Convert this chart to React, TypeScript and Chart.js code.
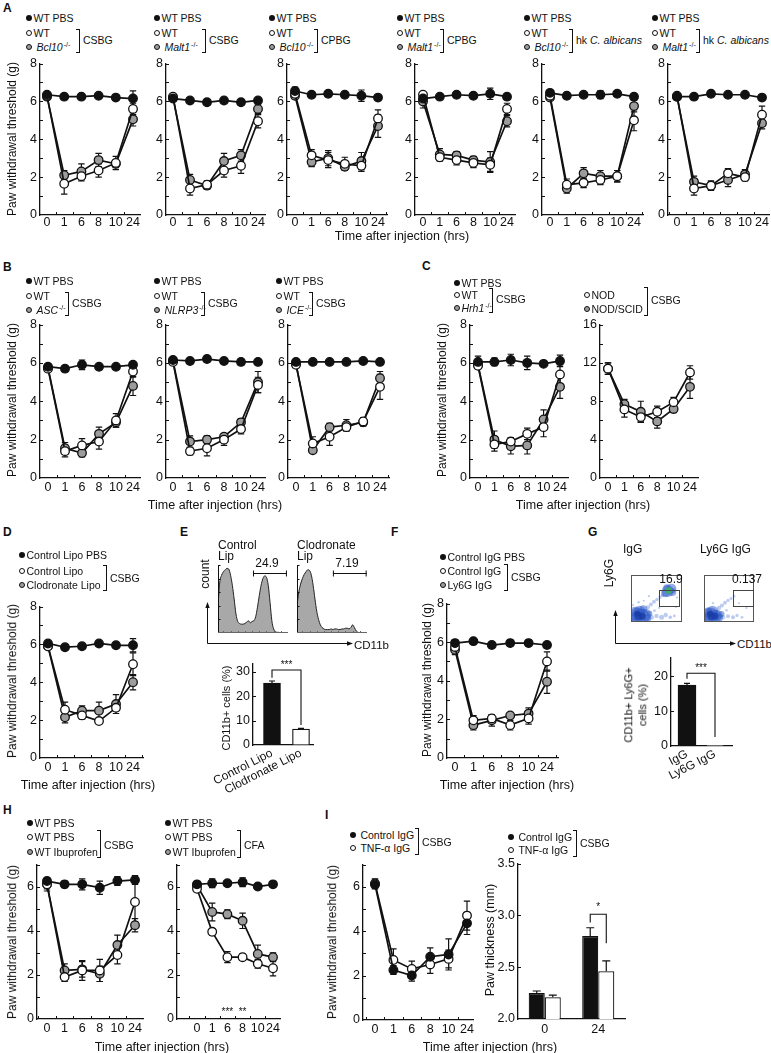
import React, { useEffect, useRef } from "react";
import { Chart, registerables } from "chart.js";
Chart.register(...registerables);

const FONT = "Arial, 'Liberation Sans', Helvetica, sans-serif";
const INK = "#111111";
const GRAY = "#9c9c9c";

const TIMES = ["0", "1", "6", "8", "10", "24"];

// ---------- Panel A ----------
const A1_PBS = [6.35, 6.25, 6.25, 6.3, 6.2, 6.15];
const A1_PBS_E = [0.08, 0.1, 0.12, 0.08, 0.1, 0.4];
const A1_WT = [6.3, 1.65, 2.05, 2.35, 2.75, 5.6];
const A1_WT_E = [0.1, 0.55, 0.25, 0.35, 0.35, 0.3];
const A1_KO = [6.25, 2.1, 2.3, 2.9, 2.7, 5.05];
const A1_KO_E = [0.1, 0.25, 0.4, 0.35, 0.2, 0.35];

const A2_PBS = [6.15, 6.05, 5.95, 6.05, 5.95, 6.05];
const A2_PBS_E = [0.1, 0.08, 0.08, 0.1, 0.12, 0.1];
const A2_WT = [6.25, 1.4, 1.6, 2.35, 2.6, 4.95];
const A2_WT_E = [0.15, 0.35, 0.2, 0.35, 0.4, 0.35];
const A2_KO = [6.2, 1.85, 1.55, 2.85, 3.15, 5.6];
const A2_KO_E = [0.15, 0.3, 0.2, 0.4, 0.3, 0.25];

const A3_PBS = [6.55, 6.35, 6.4, 6.35, 6.3, 6.2];
const A3_PBS_E = [0.2, 0.15, 0.15, 0.15, 0.3, 0.1];
const A3_WT = [6.4, 3.15, 2.9, 2.7, 2.6, 5.1];
const A3_WT_E = [0.15, 0.3, 0.4, 0.35, 0.3, 0.45];
const A3_KO = [6.3, 2.8, 3.0, 2.55, 2.85, 4.7];
const A3_KO_E = [0.15, 0.25, 0.4, 0.15, 0.45, 0.6];

const A4_PBS = [6.15, 6.25, 6.35, 6.3, 6.4, 6.25];
const A4_PBS_E = [0.1, 0.1, 0.15, 0.15, 0.3, 0.1];
const A4_WT = [6.35, 3.05, 2.9, 2.75, 2.65, 5.6];
const A4_WT_E = [0.1, 0.2, 0.25, 0.25, 0.35, 0.3];
const A4_KO = [6.0, 3.2, 3.15, 2.9, 2.8, 4.95];
const A4_KO_E = [0.35, 0.3, 0.2, 0.2, 0.55, 0.3];

const A5_PBS = [6.45, 6.3, 6.35, 6.35, 6.4, 6.25];
const A5_PBS_E = [0.1, 0.15, 0.1, 0.2, 0.12, 0.12];
const A5_WT = [6.3, 1.6, 1.7, 1.85, 2.05, 5.0];
const A5_WT_E = [0.1, 0.3, 0.25, 0.25, 0.3, 0.55];
const A5_KO = [6.2, 1.4, 2.2, 2.05, 2.05, 5.75];
const A5_KO_E = [0.1, 0.25, 0.3, 0.3, 0.3, 0.3];

const A6_PBS = [6.25, 6.25, 6.4, 6.35, 6.35, 6.2];
const A6_PBS_E = [0.1, 0.1, 0.1, 0.1, 0.1, 0.1];
const A6_WT = [6.3, 1.4, 1.55, 2.2, 2.0, 5.3];
const A6_WT_E = [0.1, 0.35, 0.2, 0.25, 0.2, 0.45];
const A6_KO = [6.25, 1.75, 1.55, 1.85, 2.15, 4.85];
const A6_KO_E = [0.1, 0.3, 0.25, 0.35, 0.25, 0.3];

// ---------- Panel B ----------
const B1_PBS = [5.8, 5.7, 5.9, 5.8, 5.8, 5.9];
const B1_PBS_E = [0.15, 0.15, 0.25, 0.08, 0.12, 0.1];
const B1_WT = [5.7, 1.4, 1.7, 1.9, 3.0, 5.55];
const B1_WT_E = [0.15, 0.3, 0.35, 0.4, 0.35, 0.3];
const B1_KO = [5.75, 1.55, 1.3, 2.3, 2.9, 4.8];
const B1_KO_E = [0.15, 0.3, 0.2, 0.35, 0.25, 0.5];

const B2_PBS = [6.15, 6.1, 6.2, 6.1, 6.05, 6.05];
const B2_PBS_E = [0.1, 0.1, 0.15, 0.1, 0.15, 0.1];
const B2_WT = [6.05, 1.4, 1.55, 2.0, 2.55, 4.85];
const B2_WT_E = [0.1, 0.2, 0.4, 0.3, 0.25, 0.4];
const B2_KO = [6.1, 1.9, 2.0, 2.15, 2.9, 5.0];
const B2_KO_E = [0.1, 0.3, 0.2, 0.15, 0.2, 0.55];

const B3_PBS = [6.05, 6.05, 6.05, 6.05, 6.1, 6.05];
const B3_PBS_E = [0.08, 0.08, 0.08, 0.08, 0.1, 0.08];
const B3_WT = [5.9, 1.8, 2.15, 2.65, 2.95, 4.75];
const B3_WT_E = [0.15, 0.35, 0.45, 0.2, 0.2, 0.65];
const B3_KO = [5.95, 1.45, 2.65, 2.75, 2.9, 5.2];
const B3_KO_E = [0.15, 0.1, 0.2, 0.3, 0.2, 0.35];

// ---------- Panel C ----------
const C1_PBS = [6.05, 6.05, 6.15, 6.0, 5.95, 6.1];
const C1_PBS_E = [0.3, 0.2, 0.3, 0.35, 0.1, 0.3];
const C1_WT = [5.85, 1.75, 1.9, 2.3, 2.65, 5.4];
const C1_WT_E = [0.15, 0.35, 0.2, 0.3, 0.5, 0.5];
const C1_KO = [5.9, 2.0, 1.65, 1.7, 3.05, 4.75];
const C1_KO_E = [0.15, 0.45, 0.4, 0.45, 0.5, 0.6];

const C2_NOD = [11.4, 7.15, 6.35, 6.9, 7.9, 11.0];
const C2_NOD_E = [0.6, 0.8, 0.5, 0.6, 0.5, 0.7];
const C2_SCID = [11.4, 7.7, 6.9, 5.9, 7.2, 9.5];
const C2_SCID_E = [0.6, 0.5, 1.1, 0.7, 0.4, 1.2];

// ---------- Panel D ----------
const D_PBS = [6.05, 5.85, 5.9, 6.05, 5.95, 5.95];
const D_PBS_E = [0.1, 0.1, 0.1, 0.1, 0.08, 0.35];
const D_CTRL = [5.9, 2.55, 2.25, 1.95, 2.65, 4.95];
const D_CTRL_E = [0.1, 0.4, 0.2, 0.1, 0.15, 0.6];
const D_CLOD = [5.9, 2.15, 2.5, 2.5, 2.85, 4.0];
const D_CLOD_E = [0.1, 0.3, 0.25, 0.45, 0.5, 0.4];

// ---------- Panel E ----------
const CTRL_LIP_HIST = [40, 75, 85, 90, 93, 95, 94, 85, 70, 50, 28, 17, 14, 13, 13, 14, 16, 18, 15, 17, 18, 24, 38, 55, 70, 80, 84, 82, 70, 45, 18, 6, 2, 1, 1, 0, 0, 0, 0, 0];
const CLOD_LIP_HIST = [40, 60, 72, 80, 86, 90, 93, 92, 85, 70, 50, 32, 20, 12, 8, 6, 5, 5, 5, 6, 5, 6, 6, 5, 5, 6, 6, 7, 7, 6, 8, 12, 8, 3, 1, 0, 0, 0, 0, 0];
const CTRL_LIP_GATE = [19.5, 38.4, 88];
const CLOD_LIP_GATE = [20, 38.8, 88];
const E_LABELS = ["Control Lipo", "Clodronate Lipo"];
const E_VALUES = [25.5, 6.5];
const E_ERRS = [0.8, 0.3];

// ---------- Panel F ----------
const F_PBS = [5.95, 6.05, 5.85, 5.95, 5.95, 5.85];
const F_PBS_E = [0.15, 0.1, 0.15, 0.15, 0.15, 0.15];
const F_CTRL = [5.75, 1.95, 2.05, 1.7, 2.05, 5.0];
const F_CTRL_E = [0.15, 0.25, 0.2, 0.25, 0.3, 0.5];
const F_LY6G = [5.6, 1.7, 1.95, 2.2, 2.3, 3.95];
const F_LY6G_E = [0.25, 0.25, 0.3, 0.15, 0.3, 0.6];

// ---------- Panel G ----------
const IGG_DENSE = [[0.13, 0.14, 8], [0.21, 0.11, 8], [0.17, 0.22, 6], [0.28, 0.15, 6], [0.08, 0.22, 5], [0.1, 0.07, 6], [0.32, 0.08, 4], [0.24, 0.27, 4], [0.05, 0.12, 4], [0.36, 0.18, 3], [0.72, 0.66, 6], [0.79, 0.71, 5], [0.67, 0.61, 4], [0.81, 0.64, 4], [0.7, 0.73, 3.5]];
const IGG_SPARSE = [[0.4, 0.1, 2.5], [0.5, 0.13, 2.2], [0.6, 0.1, 2.5], [0.68, 0.15, 2.2], [0.77, 0.1, 1.8], [0.85, 0.13, 1.4], [0.33, 0.31, 2.2], [0.39, 0.37, 2], [0.45, 0.43, 2], [0.51, 0.48, 1.8], [0.57, 0.53, 1.8], [0.62, 0.57, 1.6], [0.15, 0.42, 1.2], [0.35, 0.55, 1.1], [0.88, 0.32, 1.1], [0.9, 0.52, 1.1], [0.46, 0.24, 1.4], [0.04, 0.36, 1.1], [0.55, 0.3, 1.1], [0.25, 0.45, 1]];
const IGG_CORE = [[0.15, 0.13, 4], [0.22, 0.12, 3.5], [0.12, 0.18, 3]];
const IGG_GREEN = [[0.74, 0.67, 3.2]];
const LY6G_DENSE = [[0.13, 0.14, 8], [0.21, 0.11, 7], [0.17, 0.22, 6], [0.27, 0.15, 5], [0.08, 0.2, 5], [0.1, 0.07, 6], [0.3, 0.09, 4], [0.05, 0.12, 4], [0.35, 0.17, 3]];
const LY6G_SPARSE = [[0.38, 0.1, 2.2], [0.48, 0.12, 2], [0.58, 0.1, 2], [0.66, 0.14, 1.6], [0.76, 0.1, 1.4], [0.3, 0.3, 2.2], [0.36, 0.35, 2], [0.42, 0.41, 1.9], [0.48, 0.46, 1.7], [0.54, 0.5, 1.6], [0.6, 0.55, 1.4], [0.18, 0.4, 1.1], [0.85, 0.3, 1.1], [0.45, 0.25, 1.3], [0.7, 0.4, 1]];
const LY6G_CORE = [[0.15, 0.13, 4], [0.22, 0.12, 3.5], [0.12, 0.18, 3]];
const IGG_GATE = [0.54, 0.94, 0.33, 0.68];
const LY6G_GATE = [0.58, 0.97, 0.33, 0.68];
const G_LABELS = ["IgG", "Ly6G IgG"];
const G_VALUES = [17.5, 0.1];
const G_ERRS = [0.5, 0.05];

// ---------- Panel H ----------
const H1_PBS = [6.25, 6.1, 6.1, 5.95, 6.25, 6.3];
const H1_PBS_E = [0.1, 0.15, 0.25, 0.3, 0.2, 0.2];
const H1_WT = [6.1, 1.9, 2.2, 2.2, 2.9, 5.3];
const H1_WT_E = [0.2, 0.2, 0.45, 0.5, 0.4, 0.9];
const H1_IBU = [6.1, 2.2, 2.25, 2.05, 3.35, 4.25];
const H1_IBU_E = [0.3, 0.3, 0.35, 0.35, 0.45, 0.3];

const H2_PBS = [6.1, 6.15, 6.15, 6.2, 6.0, 6.1];
const H2_PBS_E = [0.1, 0.2, 0.1, 0.2, 0.08, 0.1];
const H2_WT = [5.9, 3.95, 2.8, 2.8, 2.5, 2.3];
const H2_WT_E = [0.1, 0.15, 0.25, 0.15, 0.2, 0.35];
const H2_IBU = [6.05, 4.85, 4.75, 4.45, 2.95, 2.8];
const H2_IBU_E = [0.1, 0.4, 0.2, 0.35, 0.4, 0.2];
const H2_SIG = ["", "", "***", "**", "", ""];

// ---------- Panel I ----------
const I1_CTRL = [6.1, 2.25, 2.0, 2.85, 2.95, 4.35];
const I1_CTRL_E = [0.2, 0.2, 0.25, 0.4, 0.7, 0.5];
const I1_TNF = [6.15, 2.7, 2.3, 2.5, 2.75, 4.7];
const I1_TNF_E = [0.2, 0.5, 0.35, 0.4, 0.4, 0.65];

const I2_LABELS = ["0", "24"];
const I2_CTRL = [2.25, 2.8];
const I2_CTRL_E = [0.02, 0.08];
const I2_TNF = [2.21, 2.46];
const I2_TNF_E = [0.02, 0.1];

// ---------- helpers ----------
const S = (k: string, v: number[], e: number[]) => ({ k, v, e });

function decor(spec: any) {
  return {
    id: "decor",
    beforeDatasetsDraw(chart: any) {
      const ctx = chart.ctx;
      const ys = chart.scales.y;
      ctx.save();
      ctx.strokeStyle = INK;
      ctx.lineWidth = 1.2;
      chart.data.datasets.forEach((ds: any, di: number) => {
        if (!ds.errs) return;
        const meta = chart.getDatasetMeta(di);
        meta.data.forEach((el: any, j: number) => {
          const raw = ds.data[j];
          const v = typeof raw === "number" ? raw : raw.y;
          const e = ds.errs[j];
          if (!e) return;
          const top = ys.getPixelForValue(v + e);
          const bot = spec.upOnly ? ys.getPixelForValue(v) : ys.getPixelForValue(v - e);
          const cw = spec.cap ?? 3.2;
          ctx.beginPath();
          ctx.moveTo(el.x, top);
          ctx.lineTo(el.x, bot);
          ctx.moveTo(el.x - cw, top);
          ctx.lineTo(el.x + cw, top);
          if (!spec.upOnly) {
            ctx.moveTo(el.x - cw, bot);
            ctx.lineTo(el.x + cw, bot);
          }
          ctx.stroke();
        });
      });
      ctx.restore();
    },
    afterDraw(chart: any) {
      const { ctx, chartArea: ca } = chart;
      const xs = chart.scales.x;
      const ys = chart.scales.y;
      ctx.save();
      ctx.strokeStyle = INK;
      ctx.fillStyle = INK;
      ctx.lineWidth = 1;
      if (spec.minorY) {
        ctx.beginPath();
        for (let v = ys.min + spec.minorY; v <= ys.max + 1e-6; v += spec.minorY) {
          const y = Math.round(ys.getPixelForValue(v)) + 0.5;
          ctx.moveTo(ca.left, y);
          ctx.lineTo(ca.left + 3, y);
        }
        ctx.stroke();
      }
      if (spec.minorX) {
        ctx.beginPath();
        for (let i = -0.5; i <= 5.5; i += 1) {
          if (i <= xs.min || i >= xs.max) continue;
          const x = Math.round(xs.getPixelForValue(i)) + 0.5;
          ctx.moveTo(x, ca.bottom);
          ctx.lineTo(x, ca.bottom - 3);
        }
        ctx.stroke();
      }
      if (spec.sig) {
        ctx.font = `10px ${FONT}`;
        ctx.textAlign = "center";
        ctx.textBaseline = "middle";
        spec.sig.forEach((t: string, i: number) => {
          if (t) ctx.fillText(t, xs.getPixelForValue(i), ys.getPixelForValue(spec.sigY));
        });
      }
      if (spec.bracket) {
        const b = spec.bracket;
        const ea = chart.getDatasetMeta(b.a[0]).data[b.a[1]];
        const eb = chart.getDatasetMeta(b.b[0]).data[b.b[1]];
        const yt = ys.getPixelForValue(b.top);
        ctx.lineWidth = 1.1;
        ctx.beginPath();
        ctx.moveTo(ea.x, ys.getPixelForValue(b.aBottom));
        ctx.lineTo(ea.x, yt);
        ctx.lineTo(eb.x, yt);
        ctx.lineTo(eb.x, ys.getPixelForValue(b.bBottom));
        ctx.stroke();
        ctx.font = `10px ${FONT}`;
        ctx.textAlign = "center";
        ctx.textBaseline = "middle";
        ctx.fillText(b.text, (ea.x + eb.x) / 2, ys.getPixelForValue(b.textY));
      }
      if (spec.frame) {
        ctx.strokeStyle = "#555";
        ctx.lineWidth = 1;
        ctx.strokeRect(ca.left + 0.5, ca.top + 0.5, ca.width - 1, ca.height - 1);
      }
      if (spec.box) {
        const [x0, x1, y0, y1] = spec.box;
        const px0 = xs.getPixelForValue(x0), px1 = xs.getPixelForValue(x1);
        const py0 = ys.getPixelForValue(y0), py1 = ys.getPixelForValue(y1);
        ctx.strokeStyle = "#444";
        ctx.lineWidth = 1;
        ctx.strokeRect(Math.round(px0) + 0.5, Math.round(py1) + 0.5, Math.round(px1 - px0), Math.round(py0 - py1));
      }
      if (spec.hist) {
        ctx.strokeStyle = INK;
        ctx.lineWidth = 1;
        ctx.beginPath();
        ctx.moveTo(ca.left + 0.5, ca.top);
        ctx.lineTo(ca.left + 0.5, ca.bottom);
        for (let v = 20; v <= 100; v += 20) {
          const y = Math.round(ys.getPixelForValue(v)) + 0.5;
          ctx.moveTo(ca.left, y);
          ctx.lineTo(ca.left + 2.5, y);
        }
        ctx.stroke();
        ctx.strokeStyle = "#666";
        ctx.beginPath();
        ctx.moveTo(ca.left, ca.bottom - 0.5);
        ctx.lineTo(ca.right, ca.bottom - 0.5);
        for (let i = 3; i < 40; i += 4) {
          const x = Math.round(xs.getPixelForValue(i)) + 0.5;
          ctx.moveTo(x, ca.bottom);
          ctx.lineTo(x, ca.bottom - 2);
        }
        ctx.stroke();
      }
      if (spec.gate) {
        const [g0, g1, lv] = spec.gate;
        const x0 = xs.getPixelForValue(g0), x1 = xs.getPixelForValue(g1);
        const y = Math.round(ys.getPixelForValue(lv)) + 0.5;
        ctx.strokeStyle = INK;
        ctx.lineWidth = 1;
        ctx.beginPath();
        ctx.moveTo(x0, y);
        ctx.lineTo(x1, y);
        ctx.moveTo(x0 + 0.5, y - 3);
        ctx.lineTo(x0 + 0.5, y + 3);
        ctx.moveTo(x1 - 0.5, y - 3);
        ctx.lineTo(x1 - 0.5, y + 3);
        ctx.stroke();
      }
      ctx.restore();
    },
  };
}

function ChartCanvas({ left, top, width, height, make }: any) {
  const ref = useRef<HTMLCanvasElement>(null);
  useEffect(() => {
    const ch = new Chart(ref.current as HTMLCanvasElement, make());
    return () => ch.destroy();
  }, []);
  return (
    <canvas
      ref={ref}
      width={width}
      height={height}
      style={{ position: "absolute", left, top, width, height }}
    />
  );
}

const tickFont = { family: FONT, size: 12.5 };
const axisGrid = { display: true, drawOnChartArea: false, drawTicks: false };
const axisBorder = { display: true, color: INK, width: 1.3 };
const fillOf = (k: string) => (k === "black" ? INK : k === "open" ? "#ffffff" : GRAY);

function LineChart({ g, series, yMax, yStep, minorY, sig, sigY, xPad = 2 }: any) {
  const YW = 26, PT = 9, PR = 9, XH = 22;
  const left = g.ax - YW;
  const top = g.yt - PT;
  const width = YW + (g.xe - g.ax) + PR;
  const height = PT + (g.yb - g.yt) + XH;
  const make = () => {
    const sp = (g.p5 - g.p0) / 5;
    const xMin = -(g.p0 - g.ax) / sp;
    const xMax = 5 + (g.xe - g.p5) / sp;
    return {
      type: "line",
      data: {
        datasets: series.map((s: any) => ({
          data: s.v.map((v: number, i: number) => ({ x: i, y: v })),
          errs: s.e,
          borderColor: INK,
          borderWidth: 1.7,
          tension: 0,
          fill: false,
          pointRadius: 4.3,
          pointBorderWidth: 1.3,
          pointBorderColor: INK,
          pointBackgroundColor: fillOf(s.k),
          clip: false,
        })),
      },
      options: {
        responsive: false,
        animation: false,
        devicePixelRatio: 1,
        events: [],
        layout: { padding: { top: PT, right: PR, left: 0, bottom: 0 } },
        plugins: { legend: { display: false }, tooltip: { enabled: false } },
        scales: {
          x: {
            type: "linear",
            min: xMin,
            max: xMax,
            afterBuildTicks: (s: any) => {
              s.ticks = TIMES.map((_, i) => ({ value: i }));
            },
            afterFit: (s: any) => {
              s.height = XH;
            },
            grid: axisGrid,
            border: axisBorder,
            ticks: {
              padding: xPad,
              autoSkip: false,
              maxRotation: 0,
              minRotation: 0,
              color: INK,
              font: tickFont,
              callback: (v: number) => TIMES[Math.round(v)] ?? "",
            },
          },
          y: {
            type: "linear",
            min: 0,
            max: yMax,
            afterFit: (s: any) => {
              s.width = YW;
            },
            grid: axisGrid,
            border: axisBorder,
            ticks: { stepSize: yStep, includeBounds: false, padding: 3, color: INK, font: tickFont },
          },
        },
      },
      plugins: [decor({ minorY, minorX: true, sig, sigY })],
    };
  };
  return <ChartCanvas left={left} top={top} width={width} height={height} make={make} />;
}

function BarLinear({ g, labels, values, errs, yMax, yStep, bracket, barW }: any) {
  const YW = 60, PT = 10, PR = 10, XH = 60;
  const left = g.ax - YW;
  const top = g.yt - PT;
  const width = YW + (g.xe - g.ax) + PR;
  const height = PT + (g.yb - g.yt) + XH;
  const make = () => {
    const sp = g.p1 - g.p0;
    const xMin = -(g.p0 - g.ax) / sp;
    const xMax = 1 + (g.xe - g.p1) / sp;
    return {
      type: "bar",
      data: {
        datasets: [
          {
            data: values.map((v: number, i: number) => ({ x: i, y: v })),
            errs,
            backgroundColor: [INK, "#ffffff"],
            borderColor: INK,
            borderWidth: 1.2,
            barThickness: barW,
          },
        ],
      },
      options: {
        responsive: false,
        animation: false,
        devicePixelRatio: 1,
        events: [],
        layout: { padding: { top: PT, right: PR, left: 0, bottom: 0 } },
        plugins: { legend: { display: false }, tooltip: { enabled: false } },
        scales: {
          x: {
            type: "linear",
            min: xMin,
            max: xMax,
            offset: false,
            afterBuildTicks: (s: any) => {
              s.ticks = labels.map((_: any, i: number) => ({ value: i }));
            },
            afterFit: (s: any) => {
              s.height = XH;
            },
            grid: axisGrid,
            border: axisBorder,
            ticks: {
              padding: 1,
              autoSkip: false,
              maxRotation: 27,
              minRotation: 27,
              color: INK,
              font: { family: FONT, size: 12 },
              callback: (v: number) => labels[Math.round(v)] ?? "",
            },
          },
          y: {
            min: 0,
            max: yMax,
            afterFit: (s: any) => {
              s.width = YW;
            },
            grid: axisGrid,
            border: axisBorder,
            ticks: { stepSize: yStep, includeBounds: false, padding: 3, color: INK, font: tickFont },
          },
        },
      },
      plugins: [decor({ upOnly: true, cap: 3, minorY: yStep, bracket })],
    };
  };
  return <ChartCanvas left={left} top={top} width={width} height={height} make={make} />;
}

function BarGrouped({ g }: any) {
  const YW = 32, PT = 9, PR = 8, XH = 22;
  const left = g.ax - YW;
  const top = g.yt - PT;
  const width = YW + (g.xe - g.ax) + PR;
  const height = PT + (g.yb - g.yt) + XH;
  const make = () => ({
    type: "bar",
    data: {
      labels: I2_LABELS,
      datasets: [
        { data: I2_CTRL, errs: I2_CTRL_E, backgroundColor: INK, borderColor: INK, borderWidth: 1.2, categoryPercentage: 0.6, barPercentage: 1 },
        { data: I2_TNF, errs: I2_TNF_E, backgroundColor: "#ffffff", borderColor: INK, borderWidth: 1.2, categoryPercentage: 0.6, barPercentage: 1 },
      ],
    },
    options: {
      responsive: false,
      animation: false,
      devicePixelRatio: 1,
      events: [],
      layout: { padding: { top: PT, right: PR, left: 0, bottom: 0 } },
      plugins: { legend: { display: false }, tooltip: { enabled: false } },
      scales: {
        x: {
          afterFit: (s: any) => {
            s.height = XH;
          },
          grid: axisGrid,
          border: axisBorder,
          ticks: { padding: 3, color: INK, font: tickFont, maxRotation: 0 },
        },
        y: {
          min: 2,
          max: 3.5,
          afterFit: (s: any) => {
            s.width = YW;
          },
          grid: axisGrid,
          border: axisBorder,
          ticks: { stepSize: 0.5, padding: 3, color: INK, font: tickFont },
        },
      },
    },
    plugins: [
      decor({
        upOnly: true,
        cap: 4,
        minorY: 0.5,
        bracket: { a: [0, 1], b: [1, 1], top: 3.01, aBottom: 2.93, bBottom: 2.73, text: "*", textY: 3.08 },
      }),
    ],
  });
  return <ChartCanvas left={left} top={top} width={width} height={height} make={make} />;
}

function Histogram({ left, top, width, height, values, gate }: any) {
  const make = () => ({
    type: "line",
    data: {
      datasets: [
        {
          data: values.map((v: number, i: number) => ({ x: i, y: v })),
          fill: "origin",
          backgroundColor: "#a8a8a8",
          borderColor: "#222",
          borderWidth: 1,
          pointRadius: 0,
          tension: 0.35,
          cubicInterpolationMode: "monotone",
        },
      ],
    },
    options: {
      responsive: false,
      animation: false,
      devicePixelRatio: 1,
      events: [],
      layout: { padding: 0 },
      plugins: { legend: { display: false }, tooltip: { enabled: false } },
      scales: {
        x: { type: "linear", min: 0, max: values.length - 1, display: false },
        y: { min: 0, max: 100, display: false },
      },
    },
    plugins: [decor({ hist: true, gate })],
  });
  return <ChartCanvas left={left} top={top} width={width} height={height} make={make} />;
}

function DotPlot({ left, top, width, height, sparse, dense, core, green, gate }: any) {
  const toPts = (a: number[][]) => a.map(([x, y, r]) => ({ x, y, r }));
  const make = () => ({
    type: "bubble",
    data: {
      datasets: [
        { data: toPts(green), backgroundColor: "rgba(60,175,105,0.95)", borderWidth: 0 },
        { data: toPts(core), backgroundColor: "rgba(25,60,165,0.75)", borderWidth: 0 },
        { data: toPts(dense), backgroundColor: "rgba(45,90,200,0.5)", borderWidth: 0 },
        { data: toPts(sparse), backgroundColor: "rgba(80,120,215,0.38)", borderWidth: 0 },
      ],
    },
    options: {
      responsive: false,
      animation: false,
      devicePixelRatio: 1,
      events: [],
      layout: { padding: 0 },
      plugins: { legend: { display: false }, tooltip: { enabled: false } },
      scales: {
        x: { type: "linear", min: 0, max: 1, display: false },
        y: { type: "linear", min: 0, max: 1, display: false },
      },
    },
    plugins: [decor({ frame: true, box: gate })],
  });
  return <ChartCanvas left={left} top={top} width={width} height={height} make={make} />;
}

function T({ x, y, s = 10.5, a = "l", r = 0, b = false, lh = 1.15, children }: any) {
  const tx = a === "c" ? "-50%" : a === "r" ? "-100%" : "0";
  return (
    <div
      style={{
        position: "absolute",
        left: x,
        top: y,
        transform: `translate(${tx}, -50%)` + (r ? ` rotate(${r}deg)` : ""),
        fontFamily: FONT,
        fontSize: s,
        fontWeight: b ? "bold" : "normal",
        color: INK,
        whiteSpace: "nowrap",
        lineHeight: lh,
        textAlign: "center",
      }}
    >
      {children}
    </div>
  );
}

function Leg({ x, y, k, children }: any) {
  const d = 6.5;
  return (
    <>
      <div
        style={{
          position: "absolute",
          left: x - d / 2,
          top: y - d / 2,
          width: d,
          height: d,
          borderRadius: "50%",
          boxSizing: "border-box",
          background: fillOf(k),
          border: k === "black" ? "none" : `1.3px solid ${INK}`,
        }}
      />
      <T x={x + 4.5} y={y} s={10.5}>
        {children}
      </T>
    </>
  );
}

function Br({ x, y1, y2, label, ly }: any) {
  return (
    <>
      <div
        style={{
          position: "absolute",
          left: x - 4,
          top: y1,
          width: 4,
          height: y2 - y1,
          boxSizing: "border-box",
          borderTop: `1.2px solid ${INK}`,
          borderRight: `1.3px solid ${INK}`,
          borderBottom: `1.2px solid ${INK}`,
        }}
      />
      <T x={x + 3} y={ly ?? (y1 + y2) / 2 - 1} s={10.5}>
        {label}
      </T>
    </>
  );
}

const Ko = ({ n }: any) => (
  <>
    <i>{n}</i>
    <span style={{ fontSize: 7, position: "relative", top: -4, marginLeft: 1 }}>-/-</span>
  </>
);

const Hk = () => (
  <>
    hk <i>C. albicans</i>
  </>
);

function LegA({ x, gene, bx, label, y0 }: any) {
  return (
    <>
      <Leg x={x} y={y0} k="black">WT PBS</Leg>
      <Leg x={x} y={y0 + 15} k="open">WT</Leg>
      <Leg x={x} y={y0 + 29} k="gray">
        {"\u00a0"}
        <Ko n={gene} />
      </Leg>
      <Br x={bx} y1={y0 + 11} y2={y0 + 35} label={label} />
    </>
  );
}

const GEO: any = {
  A1: { ax: 40, p0: 47, p5: 133, xe: 140, yt: 62, yb: 215 },
  A2: { ax: 166, p0: 173, p5: 258, xe: 265, yt: 62, yb: 215 },
  A3: { ax: 287, p0: 295, p5: 378, xe: 387, yt: 62, yb: 215 },
  A4: { ax: 415, p0: 423, p5: 507, xe: 515, yt: 62, yb: 215 },
  A5: { ax: 542, p0: 550, p5: 634, xe: 643, yt: 62, yb: 215 },
  A6: { ax: 668, p0: 677, p5: 762, xe: 769, yt: 62, yb: 215 },
  B1: { ax: 40, p0: 48, p5: 133, xe: 140, yt: 323, yb: 478 },
  B2: { ax: 166, p0: 173, p5: 258, xe: 265, yt: 323, yb: 478 },
  B3: { ax: 288, p0: 296, p5: 380, xe: 389, yt: 323, yb: 478 },
  C1: { ax: 470, p0: 478, p5: 560, xe: 568, yt: 323, yb: 478 },
  C2: { ax: 600, p0: 608, p5: 690, xe: 698, yt: 323, yb: 478 },
  D: { ax: 40, p0: 48, p5: 133, xe: 143, yt: 605, yb: 758 },
  F: { ax: 447, p0: 455, p5: 547, xe: 558, yt: 602, yb: 758 },
  H1: { ax: 37, p0: 47, p5: 135, xe: 143, yt: 863, yb: 1019 },
  H2: { ax: 177, p0: 197, p5: 273, xe: 280, yt: 863, yb: 1019 },
  I1: { ax: 363, p0: 375, p5: 467, xe: 473, yt: 863, yb: 1020 },
  E: { ax: 253, p0: 272, p1: 301, xe: 313, yt: 663, yb: 745 },
  G: { ax: 671, p0: 687, p1: 715, xe: 732, yt: 657, yb: 746 },
  I2: { ax: 518, xe: 625, yt: 862, yb: 1019 },
};

const YT = "Paw withdrawal threshold (g)";
const XT = "Time after injection (hrs)";

export default function App() {
  return (
    <div
      style={{
        position: "absolute",
        left: 0,
        top: 0,
        width: 771,
        height: 1053,
        overflow: "hidden",
        background: "#fff",
        fontFamily: FONT,
      }}
    >
      {/* Panel letters */}
      <T x={3} y={9} s={12} b>A</T>
      <T x={3} y={268} s={12} b>B</T>
      <T x={422} y={267} s={12} b>C</T>
      <T x={3} y={533} s={12} b>D</T>
      <T x={180} y={533} s={12} b>E</T>
      <T x={391} y={533} s={12} b>F</T>
      <T x={588} y={533} s={12} b>G</T>
      <T x={3} y={811} s={12} b>H</T>
      <T x={325} y={816} s={12} b>I</T>

      {/* ---------- A ---------- */}
      <LegA x={29} y0={18} gene="Bcl10" bx={80} label="CSBG" />
      <LegA x={157} y0={18} gene="Malt1" bx={206} label="CSBG" />
      <LegA x={272} y0={18} gene="Bcl10" bx={318} label="CPBG" />
      <LegA x={400} y0={18} gene="Malt1" bx={444} label="CPBG" />
      <LegA x={527} y0={18} gene="Bcl10" bx={573} label={<Hk />} />
      <LegA x={655} y0={18} gene="Malt1" bx={700} label={<Hk />} />
      <LineChart g={GEO.A1} xPad={0} yMax={8} yStep={2} minorY={1} series={[S("black", A1_PBS, A1_PBS_E), S("open", A1_WT, A1_WT_E), S("gray", A1_KO, A1_KO_E)]} />
      <LineChart g={GEO.A2} xPad={0} yMax={8} yStep={2} minorY={1} series={[S("black", A2_PBS, A2_PBS_E), S("open", A2_WT, A2_WT_E), S("gray", A2_KO, A2_KO_E)]} />
      <LineChart g={GEO.A3} xPad={0} yMax={8} yStep={2} minorY={1} series={[S("black", A3_PBS, A3_PBS_E), S("open", A3_WT, A3_WT_E), S("gray", A3_KO, A3_KO_E)]} />
      <LineChart g={GEO.A4} xPad={0} yMax={8} yStep={2} minorY={1} series={[S("black", A4_PBS, A4_PBS_E), S("open", A4_WT, A4_WT_E), S("gray", A4_KO, A4_KO_E)]} />
      <LineChart g={GEO.A5} xPad={0} yMax={8} yStep={2} minorY={1} series={[S("black", A5_PBS, A5_PBS_E), S("open", A5_WT, A5_WT_E), S("gray", A5_KO, A5_KO_E)]} />
      <LineChart g={GEO.A6} xPad={0} yMax={8} yStep={2} minorY={1} series={[S("black", A6_PBS, A6_PBS_E), S("open", A6_WT, A6_WT_E), S("gray", A6_KO, A6_KO_E)]} />
      <T x={13} y={139} s={12} a="c" r={-90}>{YT}</T>
      <T x={402} y={236} s={12.5} a="c">{XT}</T>

      {/* ---------- B ---------- */}
      <LegA x={29} y0={281} gene="ASC" bx={69} label="CSBG" />
      <LegA x={157} y0={281} gene="NLRP3" bx={205} label="CSBG" />
      <LegA x={279} y0={281} gene="ICE" bx={313} label="CSBG" />
      <LineChart g={GEO.B1} yMax={8} yStep={2} minorY={1} series={[S("black", B1_PBS, B1_PBS_E), S("open", B1_WT, B1_WT_E), S("gray", B1_KO, B1_KO_E)]} />
      <LineChart g={GEO.B2} yMax={8} yStep={2} minorY={1} series={[S("black", B2_PBS, B2_PBS_E), S("open", B2_WT, B2_WT_E), S("gray", B2_KO, B2_KO_E)]} />
      <LineChart g={GEO.B3} yMax={8} yStep={2} minorY={1} series={[S("black", B3_PBS, B3_PBS_E), S("open", B3_WT, B3_WT_E), S("gray", B3_KO, B3_KO_E)]} />
      <T x={13} y={400} s={12} a="c" r={-90}>{YT}</T>
      <T x={215} y={505} s={12.5} a="c">{XT}</T>

      {/* ---------- C ---------- */}
      <Leg x={457} y={283} k="black">WT PBS</Leg>
      <Leg x={457} y={295} k="open">WT</Leg>
      <Leg x={457} y={308} k="gray">
        <Ko n="Hrh1" />
      </Leg>
      <Br x={493} y1={288} y2={313} label="CSBG" ly={299} />
      <Leg x={587} y={295} k="open">NOD</Leg>
      <Leg x={587} y={309} k="gray">NOD/SCID</Leg>
      <Br x={648} y1={287} y2={316} label="CSBG" ly={300} />
      <LineChart g={GEO.C1} yMax={8} yStep={2} minorY={1} series={[S("black", C1_PBS, C1_PBS_E), S("open", C1_WT, C1_WT_E), S("gray", C1_KO, C1_KO_E)]} />
      <LineChart g={GEO.C2} yMax={16} yStep={4} minorY={2} series={[S("open", C2_NOD, C2_NOD_E), S("gray", C2_SCID, C2_SCID_E)]} />
      <T x={443} y={400} s={12} a="c" r={-90}>{YT}</T>
      <T x={583} y={505} s={12.5} a="c">{XT}</T>

      {/* ---------- D ---------- */}
      <Leg x={22} y={555} k="black">Control Lipo PBS</Leg>
      <Leg x={22} y={571} k="open">Control Lipo</Leg>
      <Leg x={22} y={585} k="gray">Clodronate Lipo</Leg>
      <Br x={107} y1={565} y2={591} label="CSBG" ly={578} />
      <LineChart g={GEO.D} yMax={8} yStep={2} minorY={1} series={[S("black", D_PBS, D_PBS_E), S("open", D_CTRL, D_CTRL_E), S("gray", D_CLOD, D_CLOD_E)]} />
      <T x={13} y={681} s={12} a="c" r={-90}>{YT}</T>
      <T x={88} y={785} s={12.5} a="c">{XT}</T>

      {/* ---------- E ---------- */}
      <T x={218} y={546} s={12}>Control</T>
      <T x={218} y={557} s={12}>Lip</T>
      <T x={297} y={546} s={12}>Clodronate</T>
      <T x={297} y={557} s={12}>Lip</T>
      <T x={267} y={564} s={12} a="c">24.9</T>
      <T x={347} y={564} s={12} a="c">7.19</T>
      <Histogram left={218} top={565} width={70} height={68} values={CTRL_LIP_HIST} gate={CTRL_LIP_GATE} />
      <Histogram left={297} top={565} width={70} height={68} values={CLOD_LIP_HIST} gate={CLOD_LIP_GATE} />
      <T x={206} y={574} s={12} a="c" r={-90}>count</T>
      <T x={354} y={646} s={11.5}>CD11b</T>
      <BarLinear g={GEO.E} labels={E_LABELS} values={E_VALUES} errs={E_ERRS} yMax={33.5} yStep={10} barW={17}
        bracket={{ a: [0, 0], b: [0, 1], top: 30.8, aBottom: 27.6, bBottom: 8.2, text: "***", textY: 32.6 }} />
      <T x={226} y={708} s={11} a="c" r={-90}>CD11b+ cells (%)</T>

      {/* ---------- F ---------- */}
      <Leg x={443} y={557} k="black">Control IgG PBS</Leg>
      <Leg x={443} y={571} k="open">Control IgG</Leg>
      <Leg x={443} y={585} k="gray">Ly6G IgG</Leg>
      <Br x={508} y1={564} y2={591} label="CSBG" ly={577} />
      <LineChart g={GEO.F} yMax={8} yStep={2} minorY={1} series={[S("black", F_PBS, F_PBS_E), S("open", F_CTRL, F_CTRL_E), S("gray", F_LY6G, F_LY6G_E)]} />
      <T x={428} y={680} s={12} a="c" r={-90}>{YT}</T>
      <T x={507} y={785} s={12.5} a="c">{XT}</T>

      {/* ---------- G ---------- */}
      <T x={623} y={550} s={12}>IgG</T>
      <T x={700} y={550} s={12}>Ly6G IgG</T>
      <DotPlot left={623} top={567} width={67} height={63} sparse={IGG_SPARSE} dense={IGG_DENSE} core={IGG_CORE} green={IGG_GREEN} gate={IGG_GATE} />
      <DotPlot left={696} top={567} width={66} height={63} sparse={LY6G_SPARSE} dense={LY6G_DENSE} core={LY6G_CORE} green={[]} gate={LY6G_GATE} />
      <T x={671} y={580} s={12} a="c">16.9</T>
      <T x={747} y={580} s={12} a="c">0.137</T>
      <T x={610} y={573} s={12} a="c" r={-90}>Ly6G</T>
      <T x={737} y={645} s={11.5}>CD11b</T>
      <BarLinear g={GEO.G} labels={G_LABELS} values={G_VALUES} errs={G_ERRS} yMax={25.4} yStep={10} barW={18}
        bracket={{ a: [0, 0], b: [0, 1], top: 20.9, aBottom: 19.3, bBottom: 2.6, text: "***", textY: 22.4 }} />
      <T x={636} y={705} s={11} a="c" r={-90} lh={1.25}>
        CD11b+ Ly6G+
        <br />
        cells (%)
      </T>

      {/* ---------- H ---------- */}
      <Leg x={30} y={823} k="black">WT PBS</Leg>
      <Leg x={30} y={837} k="open">WT PBS</Leg>
      <Leg x={30} y={852} k="gray">WT Ibuprofen</Leg>
      <Br x={101} y1={830} y2={858} label="CSBG" ly={845} />
      <Leg x={168} y={823} k="black">WT PBS</Leg>
      <Leg x={168} y={837} k="open">WT PBS</Leg>
      <Leg x={168} y={852} k="gray">WT Ibuprofen</Leg>
      <Br x={241} y1={830} y2={858} label="CFA" ly={845} />
      <LineChart g={GEO.H1} yMax={7} yStep={2} minorY={1} series={[S("black", H1_PBS, H1_PBS_E), S("open", H1_WT, H1_WT_E), S("gray", H1_IBU, H1_IBU_E)]} />
      <LineChart g={GEO.H2} yMax={7} yStep={2} minorY={1} sig={H2_SIG} sigY={0.3} series={[S("black", H2_PBS, H2_PBS_E), S("open", H2_WT, H2_WT_E), S("gray", H2_IBU, H2_IBU_E)]} />
      <T x={13} y={942} s={12} a="c" r={-90}>{YT}</T>
      <T x={162} y={1047} s={12.5} a="c">{XT}</T>

      {/* ---------- I ---------- */}
      <Leg x={353} y={835} k="black">{"\u00a0"}Control IgG</Leg>
      <Leg x={353} y={848} k="open">{"\u00a0"}TNF-α IgG</Leg>
      <Br x={419} y1={828} y2={855} label="CSBG" ly={842} />
      <LineChart g={GEO.I1} yMax={7} yStep={2} minorY={1} series={[S("black", I1_CTRL, I1_CTRL_E), S("open", I1_TNF, I1_TNF_E)]} />
      <T x={333} y={942} s={12} a="c" r={-90}>{YT}</T>
      <T x={490} y={1047} s={12.5} a="c">{XT}</T>
      <Leg x={511} y={837} k="black">{"\u00a0"}Control IgG</Leg>
      <Leg x={511} y={850} k="open">{"\u00a0"}TNF-α IgG</Leg>
      <Br x={577} y1={830} y2={857} label="CSBG" ly={843} />
      <BarGrouped g={GEO.I2} />
      <T x={490} y={940} s={12.5} a="c" r={-90}>Paw thickness (mm)</T>

      {/* arrows for flow plots */}
      <svg width={771} height={1053} style={{ position: "absolute", left: 0, top: 0, pointerEvents: "none" }}>
        <g stroke={INK} strokeWidth={1} fill="none">
          <polyline points="207.5,607 207.5,643.5 348,643.5" />
          <polyline points="615.5,615 615.5,643.5 731,643.5" />
        </g>
        <g fill={INK}>
          <polygon points="207.5,602 205.3,608 209.7,608" />
          <polygon points="353,643.5 347,641.3 347,645.7" />
          <polygon points="615.5,610 613.3,616 617.7,616" />
          <polygon points="736,643.5 730,641.3 730,645.7" />
        </g>
      </svg>
    </div>
  );
}
